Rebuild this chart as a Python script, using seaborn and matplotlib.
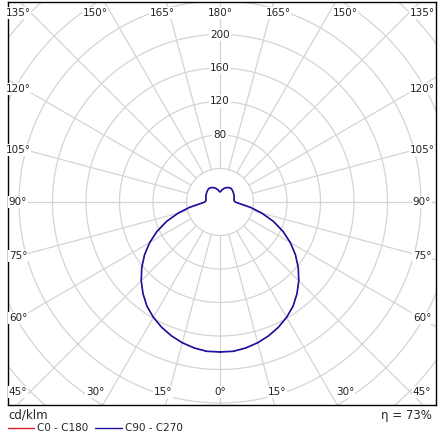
import numpy as np
import pandas as pd
import matplotlib
matplotlib.use("Agg")
import matplotlib.pyplot as plt
import seaborn as sns

sns.set_style("white")
plt.rcParams['font.family'] = ['DejaVu Sans']

# luminous intensity (cd/klm) vs gamma angle (deg, 0 = straight down)
gamma = [0, 5, 10, 15, 20, 25, 30, 35, 40, 45, 50, 55, 60, 65, 70, 75, 80, 85,
         90, 95, 100, 110, 120, 130, 140, 150, 160, 170, 175, 180]
c90_c270 = [179, 179, 177, 174, 170, 165, 159, 152, 143, 133, 122, 110, 97, 83, 68, 52, 37, 24,
            18, 17, 17, 18, 19, 20, 21, 20, 18, 15, 13, 12]
c0_c180 = c90_c270
ring_values = [40, 80, 120, 160, 200, 240, 280, 320, 360]
ring_labels = [80, 120, 160, 200]
# text positions of angle labels (px from centre), label text
angle_label_pos = [
    (-202, 189, "135°"), (-125, 189, "150°"), (-58, 189, "165°"), (0, 189, "180°"),
    (58, 189, "165°"), (125, 189, "150°"), (202, 189, "135°"),
    (-202, 113, "120°"), (-202, 52, "105°"), (-202, 0, "90°"), (-202, -54, "75°"),
    (-202, -116, "60°"), (-202, -190, "45°"),
    (202, 113, "120°"), (202, 52, "105°"), (202, 0, "90°"), (202, -54, "75°"),
    (202, -116, "60°"), (202, -190, "45°"),
    (-125, -190, "30°"), (-57, -190, "15°"), (0, -190, "0°"),
    (57, -190, "15°"), (125, -190, "30°"),
]

SCALE = 33.5 / 40  # px per cd/klm

fig = plt.figure(figsize=(4.4, 4.4), dpi=100)
ax = fig.add_axes([8 / 440, 35 / 440, 428 / 440, 403 / 440])
ax.set_xlim(-212, 216)
ax.set_ylim(-203, 200)
ax.set_xticks([])
ax.set_yticks([])
for s in ax.spines.values():
    s.set_color("black")
    s.set_linewidth(1)

grid = "#d4d4d4"
t = np.linspace(0, 2 * np.pi, 361)
for v in ring_values:
    r = v * SCALE
    ax.plot(r * np.cos(t), r * np.sin(t), color=grid, lw=0.9, zorder=1)
r0 = 40 * SCALE
for a in range(0, 360, 15):
    ar = np.radians(a)
    ax.plot([r0 * np.sin(ar), 400 * np.sin(ar)], [-r0 * np.cos(ar), -400 * np.cos(ar)],
            color=grid, lw=0.9, zorder=1)

for v in ring_labels:
    ax.text(0, v * SCALE, str(v), ha="center", va="center", fontsize=7.5,
            color="#222222", zorder=3,
            bbox=dict(facecolor="white", edgecolor="none", pad=1))
for x, y, s in angle_label_pos:
    ax.text(x, y, s, ha="center", va="center", fontsize=7.5, color="#222222", zorder=3,
            bbox=dict(facecolor="white", edgecolor="none", pad=0.5))


def curve(vals):
    g = np.radians(np.array(gamma, dtype=float))
    r = np.array(vals, dtype=float) * SCALE
    xr, yr = r * np.sin(g), -r * np.cos(g)
    x = np.concatenate([xr, -xr[::-1]])
    y = np.concatenate([yr, yr[::-1]])
    return pd.DataFrame({"x": x, "y": y})


for vals, col, lw in [(c0_c180, "#e0202a", 0.6), (c90_c270, "#1a12a0", 1.2)]:
    d = curve(vals)
    sns.lineplot(data=d, x="x", y="y", sort=False, estimator=None, color=col,
                 lw=lw, ax=ax, zorder=4)
ax.set_xlabel("")
ax.set_ylabel("")

fig.text(8 / 440, 1 - 415 / 440, "cd/klm", fontsize=8.5, va="center", ha="left")
fig.text(432 / 440, 1 - 415 / 440, "η = 73%", fontsize=8.5, va="center", ha="right")
fig.add_artist(plt.Line2D([8 / 440, 34 / 440], [1 - 428 / 440] * 2, color="#e0202a", lw=1))
fig.text(37 / 440, 1 - 428 / 440, "C0 - C180", fontsize=7.5, va="center")
fig.add_artist(plt.Line2D([95 / 440, 122 / 440], [1 - 428 / 440] * 2, color="#1a12a0", lw=1))
fig.text(125 / 440, 1 - 428 / 440, "C90 - C270", fontsize=7.5, va="center")

fig.savefig("out.png", dpi=100)
